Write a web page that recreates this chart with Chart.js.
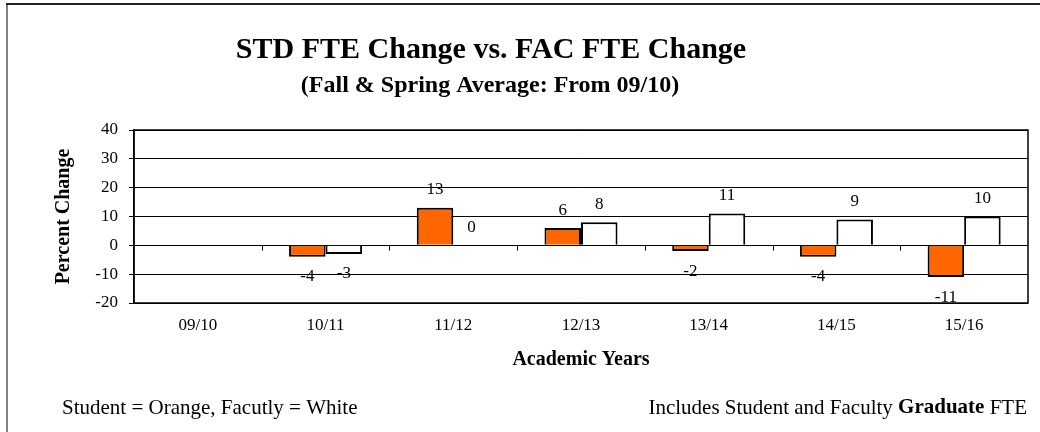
<!DOCTYPE html>
<html lang="en">
<head>
  <meta charset="UTF-8">
  <title>STD FTE Change vs. FAC FTE Change</title>
  <script src="https://cdn.jsdelivr.net/npm/chart.js"></script>
  <style>
    body {
      margin: 0;
      background: #ffffff;
    }
    #wrap {
      width: 1040px;
      height: 432px;
    }
  </style>
</head>
<body>
  <div id="wrap"><canvas id="fteChart" width="1040" height="432"></canvas></div>

  <script>
    // data
    const years = ['09/10', '10/11', '11/12', '12/13', '13/14', '14/15', '15/16'];
    const studentChange = [null, -4, 13, 6, -2, -4, -11];
    const facultyChange = [null, -3, 0, 8, 11, 9, 10];
    const yTicks = [-20, -10, 0, 10, 20, 30, 40];

    const serif = "'Liberation Serif', 'Times New Roman', serif";

    // frame, titles, plot border, tick marks on zero line, value labels, notes
    const decorPlugin = {
      id: 'decor',
      beforeDraw(chart) {
        const c = chart.ctx;
        c.save();
        c.fillStyle = '#fff';
        c.fillRect(0, 0, chart.width, chart.height);
        c.lineWidth = 2;
        c.strokeStyle = '#808080';
        c.beginPath();
        c.moveTo(7, chart.height);
        c.lineTo(7, 4);
        c.stroke();
        c.strokeStyle = '#222';
        c.beginPath();
        c.moveTo(6, 4);
        c.lineTo(chart.width, 4);
        c.stroke();

        c.fillStyle = '#000';
        c.textAlign = 'center';
        c.textBaseline = 'alphabetic';
        c.font = 'bold 30px ' + serif;
        c.fillText('STD FTE Change vs. FAC FTE Change', 491, 58);
        c.font = 'bold 24px ' + serif;
        c.fillText('(Fall & Spring Average: From 09/10)', 490, 92);
        c.restore();
      },
      afterDatasetsDraw(chart) {
        const c = chart.ctx;
        const area = chart.chartArea;
        const x = chart.scales.x;
        const y = chart.scales.y;
        const zero = Math.round(y.getPixelForValue(0)) + 0.5;
        c.save();
        c.strokeStyle = '#000';
        c.lineWidth = 1;
        c.beginPath();
        for (let i = 0; i < years.length - 1; i++) {
          const bx = Math.round((x.getPixelForTick(i) + x.getPixelForTick(i + 1)) / 2) + 0.5;
          c.moveTo(bx, zero);
          c.lineTo(bx, zero + 5);
        }
        c.stroke();
        c.lineWidth = 1.5;
        c.strokeRect(area.left, area.top, area.right - area.left, area.bottom - area.top);

        // value labels
        c.fillStyle = '#000';
        c.font = '17px ' + serif;
        c.textAlign = 'center';
        c.textBaseline = 'middle';
        chart.data.datasets.forEach((ds, di) => {
          const meta = chart.getDatasetMeta(di);
          meta.data.forEach((bar, i) => {
            const v = ds.data[i];
            if (v === null) return;
            const ly = v >= 0 ? bar.y - 18 : bar.y + 20;
            c.fillText(String(v), bar.x, ly);
          });
        });

        // notes at the bottom
        c.textAlign = 'left';
        c.font = '21px ' + serif;
        c.fillText('Student = Orange, Facutly = White', 62, 408);
        const partA = 'Includes Student and Faculty ';
        const partB = 'Graduate';
        const partC = ' FTE';
        const wa = c.measureText(partA).width;
        const wc = c.measureText(partC).width;
        c.font = 'bold 21px ' + serif;
        const wb = c.measureText(partB).width;
        const sx = 1027 - (wa + wb + wc);
        c.font = '21px ' + serif;
        c.fillText(partA, sx, 408);
        c.font = 'bold 21px ' + serif;
        c.fillText(partB, sx + wa, 408);
        c.font = '21px ' + serif;
        c.fillText(partC, sx + wa + wb, 408);
        c.restore();
      }
    };

    new Chart(document.getElementById('fteChart'), {
      type: 'bar',
      data: {
        labels: years,
        datasets: [{
          label: 'Student',
          data: studentChange,
          backgroundColor: '#ff6600',
          borderColor: '#000',
          borderWidth: 2,
          categoryPercentage: 0.572,
          barPercentage: 1
        }, {
          label: 'Faculty',
          data: facultyChange,
          backgroundColor: '#ffffff',
          borderColor: '#000',
          borderWidth: 2,
          categoryPercentage: 0.572,
          barPercentage: 1
        }]
      },
      options: {
        responsive: false,
        animation: false,
        layout: {
          padding: { left: 52, right: 12, top: 130, bottom: 60 }
        },
        plugins: {
          legend: { display: false },
          tooltip: { enabled: false }
        },
        scales: {
          x: {
            afterFit(scale) {
              scale.height = 69;
            },
            grid: { display: false, drawTicks: false },
            border: { display: false },
            ticks: {
              color: '#000',
              padding: 12,
              font: { family: serif, size: 17 }
            },
            title: {
              display: true,
              text: 'Academic Years',
              color: '#000',
              font: { family: serif, size: 20, weight: 'bold', lineHeight: 1.2 },
              padding: { top: 14, bottom: 0 }
            }
          },
          y: {
            min: -20,
            max: 40,
            afterBuildTicks(scale) {
              scale.ticks = yTicks.map(v => ({ value: v }));
            },
            afterFit(scale) {
              scale.width = 82;
            },
            grid: {
              color: '#000',
              lineWidth: 1,
              tickLength: 5
            },
            border: { display: true, color: '#000', width: 1.5 },
            ticks: {
              color: '#000',
              padding: 11,
              font: { family: serif, size: 17 }
            },
            title: {
              display: true,
              text: 'Percent Change',
              color: '#000',
              font: { family: serif, size: 20, weight: 'bold', lineHeight: 1.2 },
              padding: { top: 0, bottom: 8 }
            }
          }
        }
      },
      plugins: [decorPlugin]
    });
  </script>
</body>
</html>
